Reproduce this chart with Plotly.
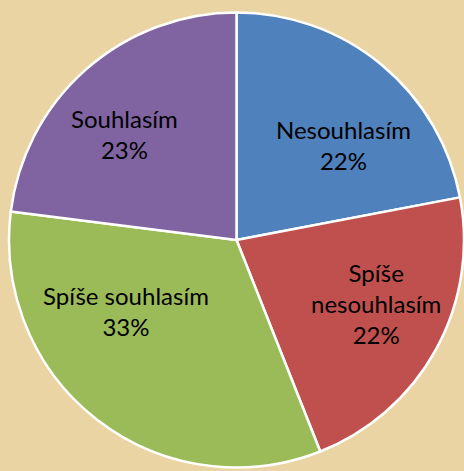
import plotly.graph_objects as go

categories = ["Nesouhlasím", "Spíše<br>nesouhlasím", "Spíše souhlasím", "Souhlasím"]
values = [22, 22, 33, 23]
colors = ["#4F81BD", "#C0504D", "#9BBB59", "#8064A2"]

W, H = 464, 471
ML, MT, MR, MB = 9, 9, 0, 0

# Data-label block centres in pixels (layout only, like hand-placed Excel labels)
label_pos_px = [(343, 145), (376, 303), (126, 311), (125, 134)]

fig = go.Figure(go.Pie(
    labels=categories,
    values=values,
    sort=False,
    direction="clockwise",
    rotation=0,
    marker=dict(colors=colors, line=dict(color="white", width=2.5)),
    textinfo="none",
    hoverinfo="label+percent",
    showlegend=False,
))

total = sum(values)
pw, ph = W - ML - MR, H - MT - MB
for cat, val, (px, py) in zip(categories, values, label_pos_px):
    fig.add_annotation(
        x=(px - ML) / pw, y=1 - (py - MT) / ph,
        xref="paper", yref="paper",
        text=f"{cat}<br>{round(val / total * 100)}%",
        showarrow=False, xanchor="center", yanchor="middle",
        font=dict(family="Lato, Carlito, sans-serif", size=24, color="black"),
    )

fig.update_layout(
    width=W, height=H,
    margin=dict(l=ML, r=MR, t=MT, b=MB),
    paper_bgcolor="#EAD4A3",
    plot_bgcolor="#EAD4A3",
)

fig.write_html(
    "out.html",
    config={"displayModeBar": False},
    post_script="document.body.style.margin='0';document.body.style.overflow='hidden';",
)
